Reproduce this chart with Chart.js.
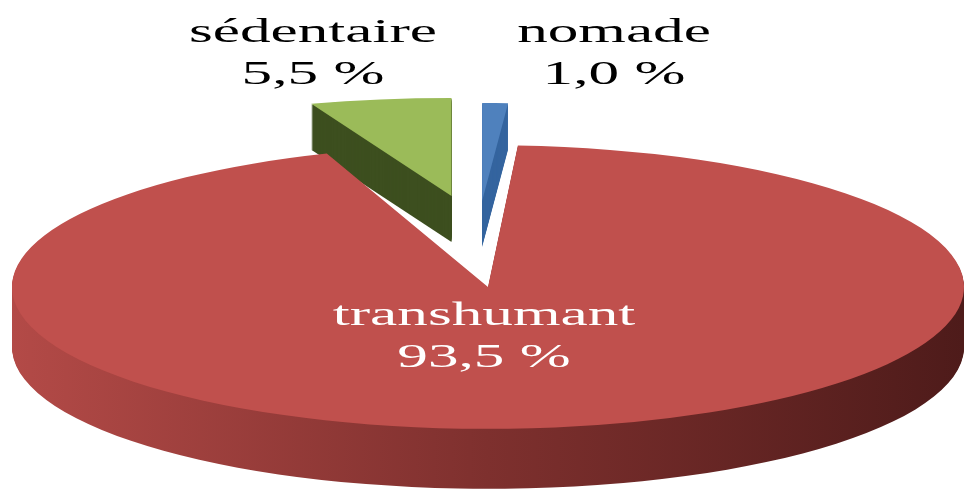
<!DOCTYPE html>
<html>
<head>
<meta charset="utf-8">
<script src="https://cdn.jsdelivr.net/npm/chart.js@4.4.0/dist/chart.umd.min.js"></script>
<style>
  html, body { margin: 0; padding: 0; background: #fff; }
  #wrap { width: 966px; height: 493px; position: relative; }
</style>
</head>
<body>
<div id="wrap"><canvas id="myChart"></canvas></div>
<script>
// values
var categories = ['transhumant', 'sédentaire', 'nomade'];
var percents = [93.5, 5.5, 1.0];
var topColors = ['#c0504d', '#9bbb59', '#4f81bd'];
var sideColors = ['#7e302e', '#3d4f1f', '#35659f'];
var explode = [0, 177, 150];   // pull-out of each slice, px before flattening

// fake 3d view: where the flattened pie goes and how flat it is
var front = {x: 488, y: 287, sx: 1, sy: 0.298, depth: 60};
var back = {x: 478, y: 232, sx: 0.87, sy: 0.206, depth: 46};

var labelPos = [
    {x: 484, y: 325, color: '#ffffff'},
    {x: 313, y: 42, color: '#000000'},
    {x: 614, y: 42, color: '#000000'}
];
var labelFont = '34px "Liberation Serif", "Times New Roman", serif';

function fmt(v) {
    return v.toFixed(1).replace('.', ',') + ' %';
}

function viewOf(i) {
    return explode[i] > 0 ? back : front;
}

function applyView(ctx, arc, i, drop) {
    var v = viewOf(i);
    var mid = (arc.startAngle + arc.endAngle) / 2;
    ctx.translate(v.x, v.y + drop);
    ctx.scale(v.sx, v.sy);
    ctx.translate(-arc.x + Math.cos(mid) * explode[i], -arc.y + Math.sin(mid) * explode[i]);
}

function slicePath(ctx, arc) {
    ctx.beginPath();
    ctx.moveTo(arc.x, arc.y);
    ctx.arc(arc.x, arc.y, arc.outerRadius, arc.startAngle, arc.endAngle);
    ctx.closePath();
}

const pie3d = {
    id: 'pie3d',
    beforeDatasetsDraw(chart) {
        const ctx = chart.ctx;
        const arcs = chart.getDatasetMeta(0).data;
        // slices pulled out sit at the back, draw them first
        const order = [];
        arcs.forEach((a, i) => { if (explode[i] > 0) order.push(i); });
        arcs.forEach((a, i) => { if (explode[i] === 0) order.push(i); });

        for (const i of order) {
            const arc = arcs[i];
            const v = viewOf(i);
            for (let d = v.depth; d >= 1; d--) {
                ctx.save();
                applyView(ctx, arc, i, d);
                slicePath(ctx, arc);
                if (explode[i] === 0) {
                    const r = arc.outerRadius;
                    const g = ctx.createLinearGradient(arc.x - r, 0, arc.x + r, 0);
                    g.addColorStop(0, '#b34a47');
                    g.addColorStop(0.5, sideColors[i]);
                    g.addColorStop(1, '#4e1b1a');
                    ctx.fillStyle = g;
                } else {
                    ctx.fillStyle = sideColors[i];
                }
                ctx.fill();
                ctx.restore();
            }
            ctx.save();
            applyView(ctx, arc, i, 0);
            arc.draw(ctx);
            ctx.restore();
        }
        return false;
    },
    afterDraw(chart) {
        const ctx = chart.ctx;
        ctx.save();
        ctx.font = labelFont;
        ctx.textAlign = 'center';
        ctx.textBaseline = 'alphabetic';
        categories.forEach((c, i) => {
            const p = labelPos[i];
            ctx.save();
            ctx.translate(p.x, p.y);
            ctx.scale(1.8, 1);
            ctx.fillStyle = p.color;
            ctx.fillText(c, 0, 0);
            ctx.fillText(fmt(percents[i]), 0, 42);
            ctx.restore();
        });
        ctx.restore();
    }
};

var myChart;

function makeChart() {
    myChart = new Chart(document.getElementById('myChart'), {
        type: 'pie',
        data: {
            labels: categories,
            datasets: [{
                data: percents,
                backgroundColor: topColors,
                borderWidth: 0
            }]
        },
        options: {
            responsive: true,
            maintainAspectRatio: false,
            animation: false,
            events: [],
            rotation: 3.6,
            radius: 476,
            layout: { padding: 0 },
            plugins: {
                legend: { display: false },
                tooltip: { enabled: false }
            }
        },
        plugins: [pie3d]
    });
}

if (document.fonts && document.fonts.load) {
    document.fonts.load(labelFont, 'sédentaire 5,5 %').then(makeChart, makeChart);
} else {
    makeChart();
}
</script>
</body>
</html>
